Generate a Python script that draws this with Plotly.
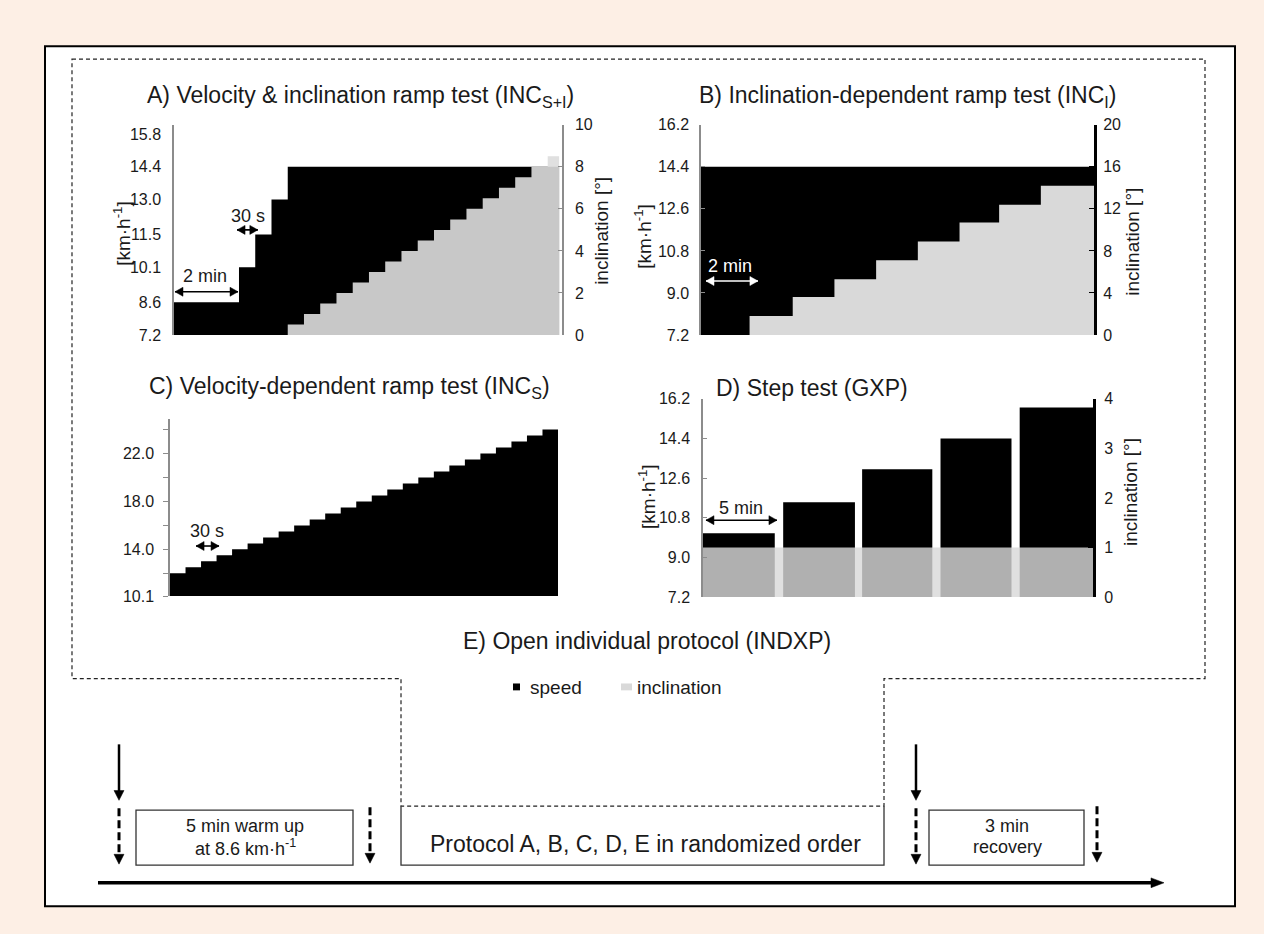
import plotly.graph_objects as go

W, H = 1264, 934
FONT = "Arial, Liberation Sans, sans-serif"
TXT = "#1a1a1a"


def px(x):
    return x / W


def py(y):
    return 1 - y / H


# ---------------- data ----------------
# A) velocity & inclination ramp (time in min)
a_speed_edges = [0, 2, 2.5, 3, 3.5, 11.85]
a_speed = [8.6, 10.1, 11.5, 13.0, 14.4]
a_inc_edges = [0, 3.5, 4.0, 4.5, 5.0, 5.5, 6.0, 6.5, 7.0, 7.5, 8.0, 8.5, 9.0,
               9.5, 10.0, 10.5, 11.0, 11.5, 11.85]
a_inc = [0, 0.5, 1.0, 1.5, 2.0, 2.5, 3.0, 3.5, 4.0, 4.5, 5.0, 5.5, 6.0, 6.5,
         7.0, 7.5, 8.0, 8.5]
a_left_ticks = [7.2, 8.6, 10.1, 11.5, 13.0, 14.4, 15.8]
a_left_labels = ["7.2", "8.6", "10.1", "11.5", "13.0", "14.4", "15.8"]

# B) inclination-dependent ramp
b_speed_edges = [0, 18.85]
b_speed = [14.4]
b_inc_edges = [0, 2.33, 4.4, 6.4, 8.4, 10.4, 12.4, 14.3, 16.3, 18.85]
b_inc = [0, 1.8, 3.6, 5.3, 7.1, 8.9, 10.7, 12.4, 14.2]

# C) velocity-dependent ramp
c_speed_edges = [0, 0.5, 1.0, 1.5, 2.0, 2.5, 3.0, 3.5, 4.0, 4.5, 5.0, 5.5, 6.0,
                 6.5, 7.0, 7.5, 8.0, 8.5, 9.0, 9.5, 10.0, 10.5, 11.0, 11.5,
                 12.0, 12.5]
c_speed = [12.0, 12.5, 13.0, 13.5, 14.0, 14.5, 15.0, 15.5, 16.0, 16.5, 17.0,
           17.5, 18.0, 18.5, 19.0, 19.5, 20.0, 20.5, 21.0, 21.5, 22.0, 22.5,
           23.0, 23.5, 24.0]
c_ticks = [10.1, 14, 18, 22]
c_tick_labels = ["10.1", "14.0", "18.0", "22.0"]
c_minor_ticks = [12, 16, 20, 24]

# D) step test
d_bar_center = [2.3, 7.44, 12.45, 17.5, 22.65]
d_bar_width = [4.6, 4.6, 4.5, 4.55, 4.7]
d_speed = [10.1, 11.5, 13.0, 14.4, 15.8]
d_inc_edges = [0, 25]
d_inc = [1]


def step(edges, vals, xa, ya, color):
    return go.Scatter(x=edges, y=list(vals) + [vals[-1]], mode="lines",
                      line=dict(width=0, shape="hv"), fill="tozeroy",
                      fillcolor=color, xaxis=xa, yaxis=ya,
                      hoverinfo="skip", showlegend=False)


fig = go.Figure()
# A
fig.add_trace(step(a_speed_edges, a_speed, "x", "y", "black"))
fig.add_trace(step(a_inc_edges, a_inc, "x", "y2", "rgba(221,221,221,0.906)"))
# B
fig.add_trace(step(b_speed_edges, b_speed, "x2", "y3", "black"))
fig.add_trace(step(b_inc_edges, b_inc, "x2", "y4", "rgba(217,217,217,1)"))
# C
fig.add_trace(step(c_speed_edges, c_speed, "x3", "y5", "black"))
# D
fig.add_trace(go.Bar(x=d_bar_center, y=d_speed, width=d_bar_width,
                     marker=dict(color="black", line=dict(width=0)),
                     xaxis="x4", yaxis="y6", hoverinfo="skip",
                     showlegend=False))
fig.add_trace(step(d_inc_edges, d_inc, "x4", "y7", "rgba(217,217,217,0.81)"))

tickfont = dict(size=16, color=TXT, family=FONT)
hidden_x = dict(visible=False, fixedrange=True)
left_common = dict(showgrid=False, zeroline=False, showline=True,
                   linecolor="#8c8c8c", linewidth=1.5, tickfont=tickfont,
                   fixedrange=True)
right_common = dict(showgrid=False, zeroline=False, showline=True,
                    tickfont=tickfont, fixedrange=True, side="right",
                    tickformat="d")

fig.update_layout(
    xaxis=dict(domain=[px(174), px(562)], range=[0, 11.94], anchor="y",
               **hidden_x),
    yaxis=dict(domain=[py(333), py(119)], range=[7.2, 16.2], anchor="x",
               tickvals=a_left_ticks, ticktext=a_left_labels, ticks="",
               ticklabelstandoff=8, **left_common),
    yaxis2=dict(range=[0, 10], dtick=2, overlaying="y", anchor="x",
                linecolor="#8c8c8c", linewidth=1.5, ticks="inside",
                ticklen=4, tickcolor="#8c8c8c", ticklabelstandoff=8,
                **right_common),
    xaxis2=dict(domain=[px(701), px(1094)], range=[0, 18.85], anchor="y3",
                **hidden_x),
    yaxis3=dict(domain=[py(333), py(119)], range=[7.2, 16.2], anchor="x2",
                tick0=7.2, dtick=1.8, tickformat=".1f", ticks="inside",
                ticklen=4, tickcolor="#8c8c8c", ticklabelstandoff=7,
                **left_common),
    yaxis4=dict(range=[0, 20], dtick=4, overlaying="y3", anchor="x2",
                linecolor="black", linewidth=3, ticks="inside", ticklen=5,
                tickcolor="black", ticklabelstandoff=3, **right_common),
    xaxis3=dict(domain=[px(170), px(558)], range=[0, 12.5], anchor="y5",
                **hidden_x),
    yaxis5=dict(domain=[py(599), py(419)], range=[10.1, 24.85], anchor="x3",
                tickvals=c_ticks, ticktext=c_tick_labels, ticks="outside",
                ticklen=5, tickcolor="#8c8c8c", ticklabelstandoff=6,
                minor=dict(tickvals=c_minor_ticks, ticks="outside",
                           ticklen=5, tickcolor="#8c8c8c"),
                **left_common),
    xaxis4=dict(domain=[px(703), px(1093)], range=[0, 25], anchor="y6",
                **hidden_x),
    yaxis6=dict(domain=[py(600), py(398)], range=[7.2, 16.2], anchor="x4",
                tick0=7.2, dtick=1.8, tickformat=".1f", ticks="inside",
                ticklen=4, tickcolor="#8c8c8c", ticklabelstandoff=8,
                **left_common),
    yaxis7=dict(range=[0, 4], dtick=1, overlaying="y6", anchor="x4",
                linecolor="black", linewidth=3, ticks="inside", ticklen=5,
                tickcolor="black", ticklabelstandoff=5, **right_common),
)

ann = []
shapes = []


def text(x, y, s, size, color=TXT, angle=0, xanchor="center"):
    ann.append(dict(x=px(x), y=py(y), xref="paper", yref="paper", text=s,
                    showarrow=False, textangle=angle, xanchor=xanchor,
                    yanchor="middle",
                    font=dict(size=size, color=color, family=FONT)))


# panel titles
text(360, 90, "A) Velocity &amp; inclination ramp test (INC<sub>S+I</sub>)", 23)
text(907, 90, "B) Inclination-dependent ramp test (INC<sub>I</sub>)", 23)
text(350, 387, "C) Velocity-dependent ramp test (INC<sub>S</sub>)", 23)
text(812, 387, "D) Step test (GXP)", 23)
text(647, 645, "E) Open individual protocol (INDXP)", 23)

# axis titles
kmh = "[km·h<sup>-1</sup>]"
inc = "inclination [°]"
text(122, 230, kmh, 19, angle=-90)
text(602, 227, inc, 19, angle=-90)
text(643, 233, kmh, 19, angle=-90)
text(1133, 238, inc, 19, angle=-90)
text(647, 497, kmh, 19, angle=-90)
text(1130, 493, inc, 19, angle=-90)


def darrow(xa, ya, x0, x1, y, color="black"):
    # double-headed arrow drawn in data coordinates of a panel
    shapes.append(dict(type="line", xref=xa, yref=ya, x0=x0, x1=x1, y0=y,
                       y1=y, line=dict(color=color, width=1.6)))
    for xx, d in ((x1, -1), (x0, 1)):
        shapes.append(dict(type="path", xref=xa, yref=ya, xsizemode="pixel",
                           ysizemode="pixel", xanchor=xx, yanchor=y,
                           path=f"M 0,0 L {8 * d},4.5 L {8 * d},-4.5 Z",
                           fillcolor=color, line=dict(color=color, width=0.5)))


def dtext(xa, ya, x, y, s, color=TXT):
    ann.append(dict(x=x, y=y, xref=xa, yref=ya, text=s, showarrow=False,
                    font=dict(size=18, color=color, family=FONT)))


# A annotations
darrow("x", "y", 0.03, 1.97, 9.05)
dtext("x", "y", 0.95, 9.72, "2 min")
darrow("x", "y", 1.94, 2.58, 11.7)
dtext("x", "y", 2.28, 12.29, "30 s")
# B
darrow("x2", "y3", 0.24, 2.73, 9.51, "white")
dtext("x2", "y3", 1.39, 10.14, "2 min", "white")
# C
darrow("x3", "y5", 0.84, 1.58, 14.28)
dtext("x3", "y5", 1.19, 15.5, "30 s")
# D
darrow("x4", "y6", 0.19, 4.74, 10.69)
dtext("x4", "y6", 2.44, 11.23, "5 min")

# legend
text(528, 692, "speed", 19, xanchor="left")
text(635, 692, "inclination", 19, xanchor="left")

# bottom timeline texts
text(245, 833, "5 min warm up", 18)
text(245, 855, "at 8.6 km·h<sup>-1</sup>", 18)
text(646, 851, "Protocol A, B, C, D, E in randomized order", 23)
text(1007, 833, "3 min", 18)
text(1007, 855, "recovery", 18)


def rect(x0, y0, x1, y1, fill=None, lc="#333", lw=1.2, layer="above"):
    shapes.append(dict(type="rect", xref="paper", yref="paper",
                       x0=px(x0), x1=px(x1), y0=py(y0), y1=py(y1),
                       fillcolor=fill if fill else "rgba(0,0,0,0)",
                       line=dict(color=lc, width=lw), layer=layer))


def path(points, lc="#333", lw=1.0, dash=None, fill=None, close=False):
    d = "M " + " L ".join(f"{px(x):.5f},{py(y):.5f}" for x, y in points)
    if close:
        d += " Z"
    ln = dict(color=lc, width=lw)
    if dash:
        ln["dash"] = dash
    shapes.append(dict(type="path", xref="paper", yref="paper", path=d,
                       line=ln,
                       fillcolor=fill if fill else "rgba(0,0,0,0)"))


# outer frame
rect(45, 39, 1235, 915, fill="white", lc="black", lw=2, layer="below")
# dashed outline
path([(72, 52), (1205, 52), (1205, 683), (884, 683), (884, 813), (401, 813),
      (401, 683), (72, 683)], lc="#222", lw=1.2, dash="4px,3px", close=True)
# protocol box (solid sides)
path([(401, 813), (401, 873), (884, 873), (884, 813)], lc="#333", lw=1.3)
# boxes
rect(136, 817, 353, 873, lw=1.3)
rect(929, 817, 1084, 873, lw=1.3)
# legend squares
rect(513, 688, 520, 695, fill="black", lc="black", lw=0)
rect(621, 688, 632, 695, fill="#d9d9d9", lc="#d9d9d9", lw=0)


def down_arrow(x, y0, tip, dashed=False):
    path([(x, y0), (x, tip - 9)], lc="black", lw=3 if dashed else 2.5,
         dash="8px,4px" if dashed else None)
    path([(x - 5, tip - 10), (x + 5, tip - 10), (x, tip)], lc="black", lw=0.5,
         fill="black", close=True)


down_arrow(119, 750, 807)
down_arrow(119, 815, 872, dashed=True)
down_arrow(370, 814, 871, dashed=True)
down_arrow(916, 750, 807)
down_arrow(916, 815, 872, dashed=True)
down_arrow(1097, 813, 870, dashed=True)

# timeline
path([(98, 891), (1153, 891)], lc="black", lw=3.5)
path([(1151, 886), (1151, 896), (1164, 891)], lc="black", lw=0.5, fill="black",
     close=True)

fig.update_layout(
    width=W, height=H, autosize=False,
    margin=dict(l=0, r=0, t=0, b=0, pad=0),
    paper_bgcolor="#fdefe5", plot_bgcolor="rgba(0,0,0,0)",
    showlegend=False, annotations=ann, shapes=shapes,
    font=dict(family=FONT, color=TXT),
)

fig.write_html("out.html", config={"displayModeBar": False},
               post_script="document.body.style.margin='0';"
                           "document.body.style.overflow='hidden';")
